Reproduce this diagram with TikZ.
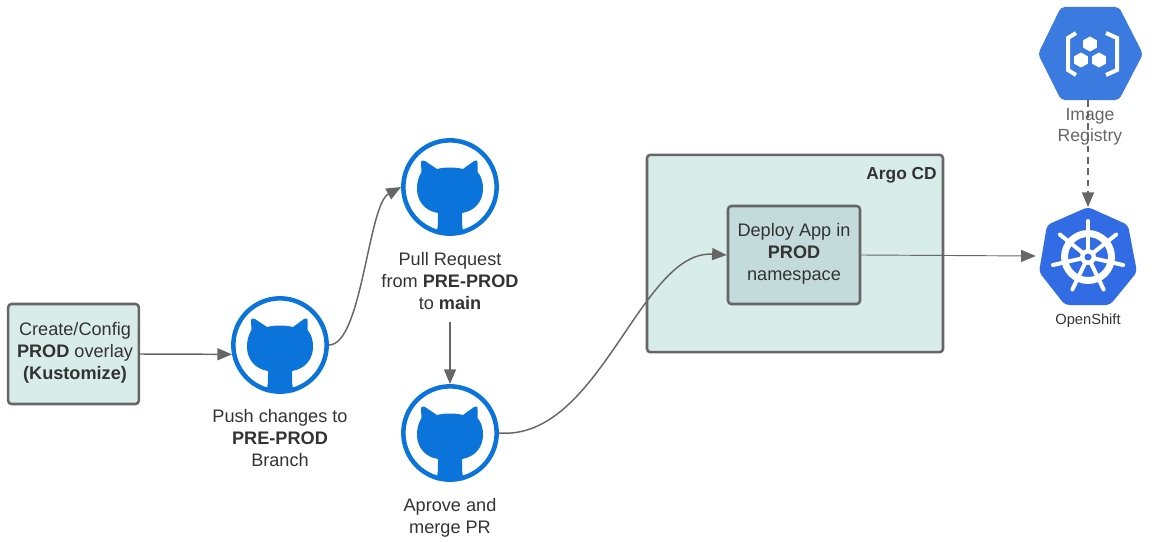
\documentclass[tikz,border=0pt]{standalone}
\usepackage{fontspec}
\setmainfont{Liberation Sans}
\usetikzlibrary{arrows.meta,shapes.geometric}
\definecolor{ghblue}{HTML}{0A74DA}
\definecolor{hexblue}{HTML}{3B7BE0}
\definecolor{k8sblue}{HTML}{326CE5}
\definecolor{argofill}{HTML}{D8ECEA}
\definecolor{deployfill}{HTML}{C3DBDA}
\definecolor{edgegray}{HTML}{666666}
\definecolor{txt}{HTML}{333333}
\tikzset{
  x=0.75pt,y=-0.75pt,
  lbl/.style={font=\fontsize{13.6}{16.5}\selectfont,text=txt,align=center,inner sep=0pt},
  ghring/.style={circle,draw=ghblue,line width=3.4pt,fill=white,minimum size=70pt,inner sep=0pt},
  greenbox/.style={rectangle,draw=edgegray,line width=1.9pt,rounded corners=2.5pt,inner sep=0pt},
  conn/.style={draw=edgegray,line width=1.1pt,-{Triangle[length=11pt,width=9pt]}},
  thinconn/.style={draw=edgegray,line width=0.7pt,-{Triangle[length=11pt,width=9pt]}},
  anchorbox/.style={inner sep=0pt,minimum width=78pt,minimum height=70pt},
  cat/.pic={
    \fill[ghblue] (-14,47) .. controls (-12,42) and (-12,36) .. (-12,26)
      .. controls (-25,24) and (-33,14) .. (-33,2)
      .. controls (-33,-6) and (-31,-11) .. (-28.5,-15)
      -- (-29,-24) .. controls (-29,-27) and (-27,-27) .. (-25,-26)
      -- (-13,-18) .. controls (-5,-20) and (5,-20) .. (13,-18)
      -- (24,-26) .. controls (26,-27) and (28,-27) .. (27.5,-24)
      -- (27.5,-15) .. controls (31,-11) and (33,-6) .. (33,2)
      .. controls (33,14) and (25,24) .. (12,26)
      .. controls (12,36) and (12,42) .. (14,47) -- cycle;
  }
}
\begin{document}
\begin{tikzpicture}
\useasboundingbox (0,0) rectangle (1152,542);

% containers
\node[greenbox,fill=argofill,minimum width=222pt,minimum height=148pt] (argo) at (795,253.5) {};
\node[greenbox,fill=deployfill,minimum width=99pt,minimum height=73.5pt] (deploy) at (794,255) {};
\node[greenbox,fill=argofill,minimum width=98pt,minimum height=75pt] (create) at (73.5,354) {};

% github rings
\node[ghring] (ghpush) at (280,345) {};
\node[ghring] (ghpull) at (450,187) {};
\node[ghring] (ghmerge) at (450,433) {};
\pic at (ghpush) {cat};
\pic at (ghpull) {cat};
\pic at (ghmerge) {cat};

% anchors for the two product icons
\node[anchorbox] (registry) at (1088,53.5) {};
\node[anchorbox,minimum height=73pt] (openshift) at (1088,256) {};

% registry hexagon
\fill[hexblue,rounded corners=3pt] (1061,7) -- (1119,7) -- (1143,54) -- (1119,100) -- (1061,100) -- (1038,54) -- cycle;
\draw[white,line width=3pt] (1076,33) -- (1068,38) -- (1068,70) -- (1076,75);
\draw[white,line width=3pt] (1106,33) -- (1117,38) -- (1117,70) -- (1106,75);
\foreach \cx/\cy in {1090/44,1081/60,1099/60}{
  \fill[white] (\cx,\cy-7.5) -- (\cx+6.8,\cy-3.7) -- (\cx+6.8,\cy+3.7) -- (\cx,\cy+7.5) -- (\cx-6.8,\cy+3.7) -- (\cx-6.8,\cy-3.7) -- cycle;
}

% openshift heptagon
\fill[k8sblue,rounded corners=3pt] (1088,207) -- (1128,225) -- (1137,272) -- (1110,305) -- (1065,305) -- (1039,272) -- (1047,225) -- cycle;
\begin{scope}[shift={(1088,257)}]
  \draw[white,line width=5.2pt] (0,0) circle (23.5);
  \foreach \a in {0,51.43,102.86,154.29,205.71,257.14,308.57}{
    \draw[white,line width=3pt,line cap=round,rotate=\a] (0,0) -- (0,-36);
  }
  \fill[white] (0,0) circle (8);
  \fill[k8sblue] (0,0) circle (3.5);
\end{scope}

% connectors
\node[lbl] (pulltext) at (450,281) {Pull Request\\from \textbf{PRE-PROD}\\to \textbf{main}};
\draw[conn] (create.east) -- (ghpush.191);
\draw[conn] (ghpush.east) .. controls (362,345) and (368,205) .. (ghpull.west);
\draw[conn] (pulltext.south) ++(0,12) -- (ghmerge.north);
\draw[conn] (ghmerge.east) .. controls (600,441) and (640,250) .. (deploy.west);
\draw[thinconn] (deploy.east) -- (openshift.west);
\draw[conn,dash pattern=on 5pt off 3.5pt] (registry.south) -- (openshift.north);

% labels
\node[lbl] (createtext) at (75,353) {Create/Config\\\textbf{PROD} overlay\\\textbf{(Kustomize)}};
\node[lbl] (pushtext) at (280,438) {Push changes to\\\textbf{PRE-PROD}\\Branch};
\node[lbl] (mergetext) at (450,518) {Aprove and\\merge PR};
\node[lbl] (deploytext) at (794,254) {Deploy App in\\\textbf{PROD}\\namespace};
\node[lbl,anchor=east,font=\fontsize{13}{16.5}\selectfont\bfseries] (argotext) at (937,175) {Argo CD};
\node[lbl,text=edgegray,font=\fontsize{13.2}{15.8}\selectfont] (registrytext) at (1090,127) {Image\\Registry};
\node[lbl,font=\fontsize{11}{13}\selectfont] (shifttext) at (1088,321) {OpenShift};
\end{tikzpicture}
\end{document}
